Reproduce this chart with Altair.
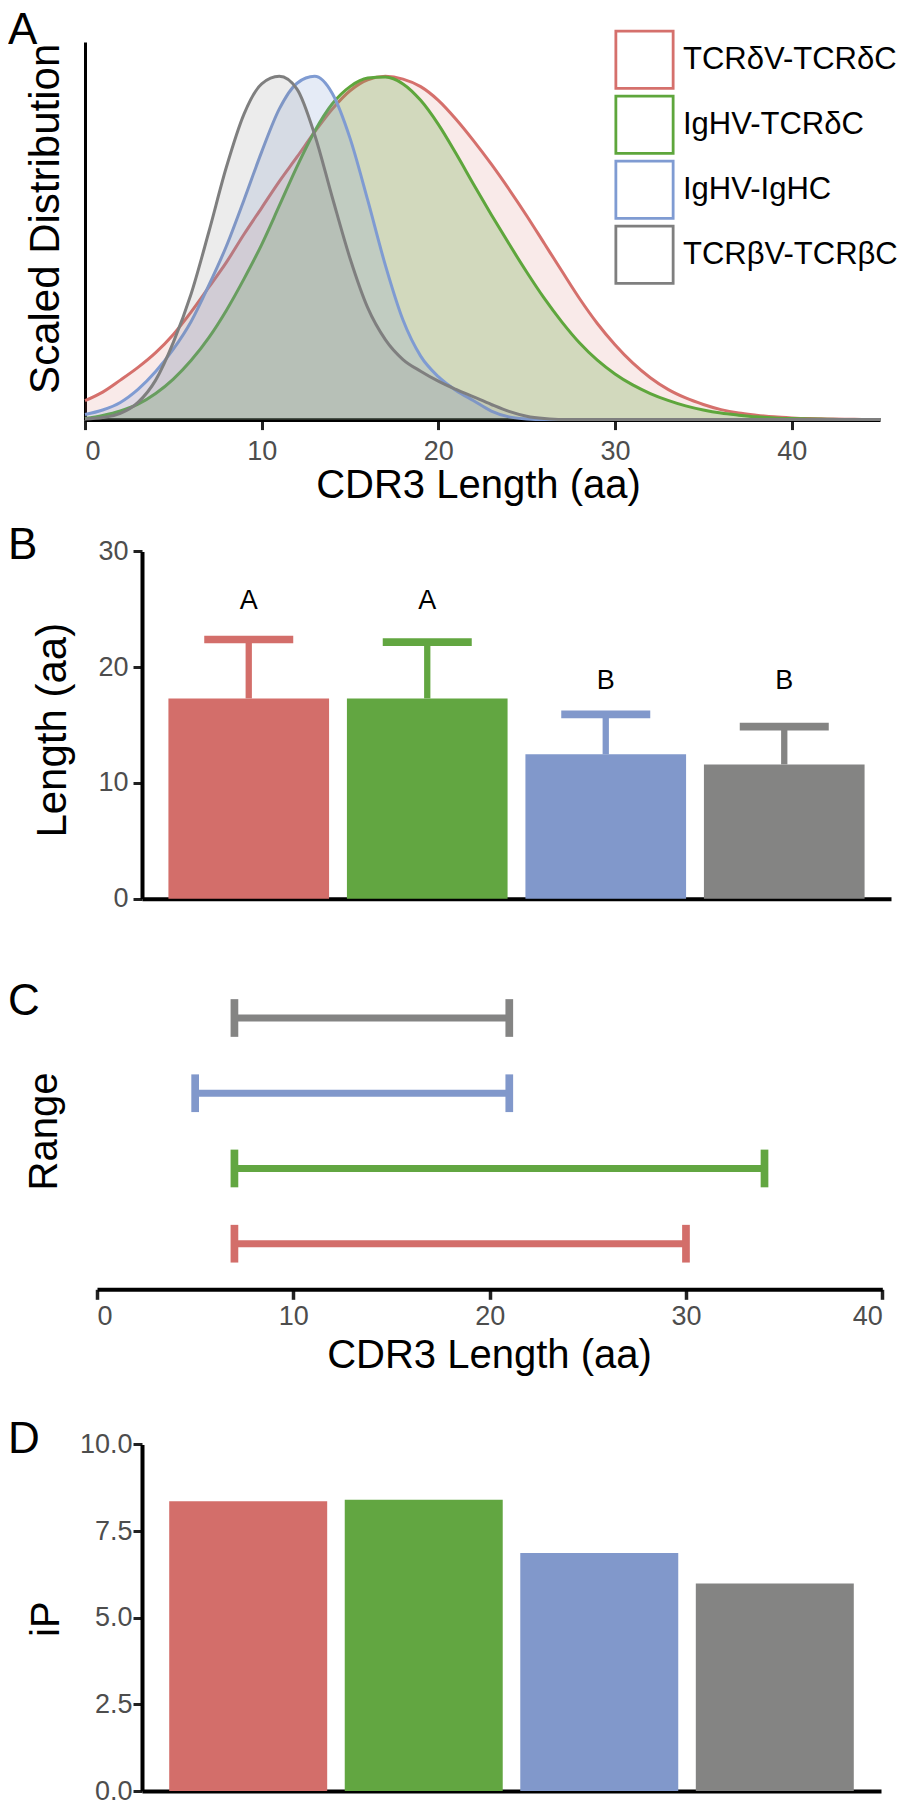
import altair as alt
import pandas as pd

FONT = "Liberation Sans"

# ---------------- data ----------------
groups = ["TCRδV-TCRδC", "IgHV-TCRδC", "IgHV-IgHC", "TCRβV-TCRβC"]
bar_colors = ["#D36E6A", "#62A641", "#8198CB", "#848483"]
line_colors = ["#D5706C", "#5EA63C", "#7F9BD2", "#7F7F7F"]
fill_opacity = [0.15, 0.25, 0.2, 0.15]

# Panel A: scaled length distributions (peak = 1)
cdr3_len = list(range(46))
dens_tcrd = [0.055, 0.08, 0.115, 0.152, 0.195, 0.248, 0.313, 0.385, 0.458, 0.54,
             0.617, 0.694, 0.765, 0.838, 0.905, 0.958, 0.99, 1.0, 0.992, 0.97,
             0.93, 0.875, 0.812, 0.744, 0.671, 0.594, 0.513, 0.432, 0.352, 0.28,
             0.218, 0.165, 0.122, 0.088, 0.063, 0.044, 0.029, 0.019, 0.013, 0.008,
             0.005, 0.003, 0.002, 0.001, 0.0005, 0.0]
dens_ighv_tcrd = [0.003, 0.012, 0.025, 0.045, 0.076, 0.118, 0.172, 0.238, 0.318, 0.41,
                  0.51, 0.623, 0.737, 0.84, 0.92, 0.97, 0.995, 0.998, 0.978, 0.93,
                  0.86, 0.775, 0.685, 0.597, 0.512, 0.43, 0.353, 0.284, 0.223, 0.173,
                  0.133, 0.101, 0.076, 0.056, 0.04, 0.028, 0.019, 0.013, 0.008, 0.005,
                  0.003, 0.002, 0.001, 0.0005, 0.0, 0.0]
dens_igh = [0.015, 0.028, 0.05, 0.088, 0.14, 0.205, 0.285, 0.39, 0.505, 0.64,
            0.78, 0.905, 0.98, 1.0, 0.95, 0.82, 0.64, 0.45, 0.29, 0.185,
            0.125, 0.085, 0.055, 0.025, 0.008, 0.002, 0.0, 0.0, 0.0, 0.0,
            0.0, 0.0, 0.0, 0.0, 0.0, 0.0, 0.0, 0.0, 0.0, 0.0,
            0.0, 0.0, 0.0, 0.0, 0.0, 0.0]
dens_tcrb = [0.002, 0.006, 0.018, 0.05, 0.115, 0.225, 0.365, 0.545, 0.735, 0.89,
             0.978, 1.0, 0.963, 0.83, 0.647, 0.47, 0.326, 0.233, 0.175, 0.141,
             0.112, 0.088, 0.066, 0.044, 0.024, 0.01, 0.003, 0.0, 0.0, 0.0,
             0.0, 0.0, 0.0, 0.0, 0.0, 0.0, 0.0, 0.0, 0.0, 0.0,
             0.0, 0.0, 0.0, 0.0, 0.0, 0.0]

# Panel B: mean length + SD, significance letters
len_mean = [17.3, 17.3, 12.47, 11.6]
len_sd = [5.09, 4.86, 3.45, 3.26]
sig_letter = ["A", "A", "B", "B"]
sig_pos = [25.7, 25.7, 18.8, 18.8]

# Panel C: ranges
range_min = [7, 7, 5, 7]
range_max = [30, 34, 21, 21]

# Panel D: iP
ip_value = [8.36, 8.40, 6.87, 5.99]

# ---------------- helpers ----------------
def panel_title(letter, offset):
    return alt.TitleParams(letter, anchor="start", frame="group", orient="top",
                           fontSize=44, font=FONT, fontWeight="normal", color="black",
                           baseline="alphabetic", offset=offset, dx=-77)

TICK_COLOR = "#222222"
LABEL_COLOR = "#4D4D4D"

# ---------------- Panel A ----------------
rows = []
for g, ys in zip(groups, [dens_tcrd, dens_ighv_tcrd, dens_igh, dens_tcrb]):
    for x, y in zip(cdr3_len, ys):
        rows.append({"group": g, "len": x, "dens": y})
dfA = pd.DataFrame(rows)

axA_x = alt.Axis(values=[0, 10, 20, 30, 40], title="CDR3 Length (aa)", grid=False,
                 tickSize=10, tickWidth=3, tickColor=TICK_COLOR,
                 domainColor="black", domainWidth=4,
                 labelFontSize=27, labelColor=LABEL_COLOR, labelPadding=8.5,
                 titleFontSize=40, titleFontWeight="normal", titleColor="black",
                 titleX=393, titleY=77.7, titleBaseline="alphabetic", titleAlign="center")
axA_y = alt.Axis(title="Scaled Distribution", labels=False, ticks=False, grid=False,
                 domainColor="black", domainWidth=3,
                 titleFontSize=42, titleFontWeight="normal", titleColor="black",
                 titleX=-27, titleY=176.3, titleBaseline="alphabetic",
                 titleAngle=270, titleAlign="center")
xA = alt.X("len:Q", scale=alt.Scale(domain=[0, 45], nice=False, zero=False), axis=axA_x)
yA = alt.Y("dens:Q", stack=None, scale=alt.Scale(domain=[0, 1.1], nice=False), axis=axA_y)

legendA = alt.Legend(orient="none", legendX=529, legendY=-12.7, title=None,
                     symbolType="square", symbolSize=3280, symbolStrokeWidth=2.8,
                     symbolFillColor="white", symbolOpacity=1,
                     labelFontSize=31, labelFont=FONT, labelColor="black",
                     labelOffset=8, rowPadding=-6, padding=0, labelLimit=400)
stroke_scale = alt.Scale(domain=groups, range=line_colors)

layersA = []
for g, c, op in zip(groups, line_colors, fill_opacity):
    sub = alt.Chart(dfA).transform_filter(alt.datum.group == g)
    layersA.append(sub.mark_area(interpolate="monotone", color=c, fillOpacity=op)
                   .encode(x=xA, y=yA))
    layersA.append(sub.mark_line(interpolate="monotone", strokeWidth=3)
                   .encode(x=xA, y=yA,
                           stroke=alt.Stroke("group:N", scale=stroke_scale, legend=legendA)))
chartA = alt.layer(*layersA).properties(width=795, height=377.6,
                                         title=panel_title("A", -58.2))

# ---------------- Panel B ----------------
color_scale = alt.Scale(domain=groups, range=bar_colors)
colorB = alt.Color("group:N", scale=color_scale, legend=None)
dfB = pd.DataFrame({"group": groups, "mean": len_mean, "sd": len_sd,
                    "letter": sig_letter, "pos": sig_pos})
baseB = alt.Chart(dfB).transform_calculate(upper="datum.mean + datum.sd")
xB = alt.X("group:N", sort=groups,
           scale=alt.Scale(domain=groups, range=[57, 806], paddingInner=0.1, paddingOuter=0.148),
           axis=alt.Axis(title=None, labels=False, ticks=False, grid=False,
                         domainColor="black", domainWidth=4))
axB_y = alt.Axis(values=[0, 10, 20, 30], offset=-57, grid=False,
                 tickSize=9, tickWidth=3, tickColor=TICK_COLOR,
                 domainColor="black", domainWidth=4,
                 labelFontSize=27, labelColor=LABEL_COLOR, labelPadding=5,
                 title="Length (aa)", titleFontSize=42, titleFontWeight="normal",
                 titleColor="black", titleX=-77, titleY=309.7,
                 titleBaseline="alphabetic", titleAngle=270, titleAlign="center")
yscaleB = alt.Scale(domain=[0, 30], range=[478.7, 131.4], nice=False)

barsB = baseB.mark_bar().encode(x=xB, y=alt.Y("mean:Q", scale=yscaleB, axis=axB_y), color=colorB)
stemB = baseB.mark_rule(strokeWidth=6.3).encode(
    x=xB, y=alt.Y("mean:Q", scale=yscaleB, axis=axB_y), y2="upper:Q", color=colorB)
capB = baseB.mark_tick(thickness=7.7, size=89, opacity=1).encode(
    x=xB, y=alt.Y("upper:Q", scale=yscaleB, axis=axB_y), color=colorB)
textB = baseB.mark_text(fontSize=27, font=FONT, color="black", baseline="middle").encode(
    x=xB, y=alt.Y("pos:Q", scale=yscaleB, axis=axB_y), text="letter:N")
chartB = alt.layer(barsB, stemB, capB, textB).properties(
    width=806, height=478.7, title=panel_title("B", -182.9))

# ---------------- Panel C ----------------
dfC = pd.DataFrame({"group": groups, "lo": range_min, "hi": range_max})
order_c = [groups[3], groups[2], groups[1], groups[0]]
colorC = alt.Color("group:N", scale=color_scale, legend=None)
yC = alt.Y("group:N", sort=order_c,
           scale=alt.Scale(type="point", domain=order_c, range=[119, 344.7], padding=0),
           axis=alt.Axis(title="Range", labels=False, ticks=False, domain=False, grid=False,
                         titleFontSize=40, titleFontWeight="normal", titleColor="black",
                         titleX=-28.4, titleY=232, titleBaseline="alphabetic",
                         titleAngle=270, titleAlign="center"))
xscaleC = alt.Scale(domain=[0, 40], range=[12, 797.3], nice=False, zero=False)
axC_x = alt.Axis(values=[0, 10, 20, 30, 40], title="CDR3 Length (aa)", grid=False,
                 tickSize=10, tickWidth=3.5, tickColor=TICK_COLOR,
                 domainColor="black", domainWidth=4,
                 labelFontSize=27, labelColor=LABEL_COLOR, labelPadding=4,
                 titleFontSize=40, titleFontWeight="normal", titleColor="black",
                 titleX=404, titleY=77.7, titleBaseline="alphabetic", titleAlign="center")
baseC = alt.Chart(dfC)
ruleC = baseC.mark_rule(strokeWidth=7).encode(
    x=alt.X("lo:Q", scale=xscaleC, axis=axC_x), x2="hi:Q", y=yC, color=colorC)
capLoC = baseC.mark_tick(thickness=7.7, size=37.7, opacity=1).encode(
    x=alt.X("lo:Q", scale=xscaleC, axis=axC_x), y=yC, color=colorC)
capHiC = baseC.mark_tick(thickness=7.7, size=37.7, opacity=1).encode(
    x=alt.X("hi:Q", scale=xscaleC, axis=axC_x), y=yC, color=colorC)
chartC = alt.layer(ruleC, capLoC, capHiC).properties(
    width=806, height=390.3, title=panel_title("C", -160.2))

# ---------------- Panel D ----------------
dfD = pd.DataFrame({"group": groups, "ip": ip_value})
xD = alt.X("group:N", sort=groups,
           scale=alt.Scale(domain=groups, range=[57, 796], paddingInner=0.1, paddingOuter=0.155),
           axis=alt.Axis(title=None, labels=False, ticks=False, grid=False,
                         domainColor="black", domainWidth=4))
yD = alt.Y("ip:Q", scale=alt.Scale(domain=[0, 10], range=[501, 154.4], nice=False),
           axis=alt.Axis(values=[0, 2.5, 5, 7.5, 10], format=".1f", offset=-57, grid=False,
                         tickSize=9, tickWidth=3, tickColor=TICK_COLOR,
                         domainColor="black", domainWidth=4,
                         labelFontSize=27, labelColor=LABEL_COLOR, labelPadding=1,
                         title="iP", titleFontSize=40, titleFontWeight="normal",
                         titleColor="black", titleX=-84, titleY=328.7,
                         titleBaseline="alphabetic", titleAngle=270, titleAlign="center"))
chartD = alt.Chart(dfD).mark_bar().encode(
    x=xD, y=yD, color=alt.Color("group:N", scale=color_scale, legend=None)
).properties(width=806, height=501, title=panel_title("D", -207.4))

# ---------------- assemble ----------------
chart = alt.vconcat(chartA, chartB, chartC, chartD, spacing=0, bounds="flush", padding=0
).resolve_scale(stroke="independent", color="independent"
).configure_view(strokeWidth=0
).configure_axis(labelFont=FONT, titleFont=FONT
).configure_legend(labelFont=FONT
).configure_title(font=FONT)

chart.save("out.html", embed_options={"renderer": "svg", "actions": False})
